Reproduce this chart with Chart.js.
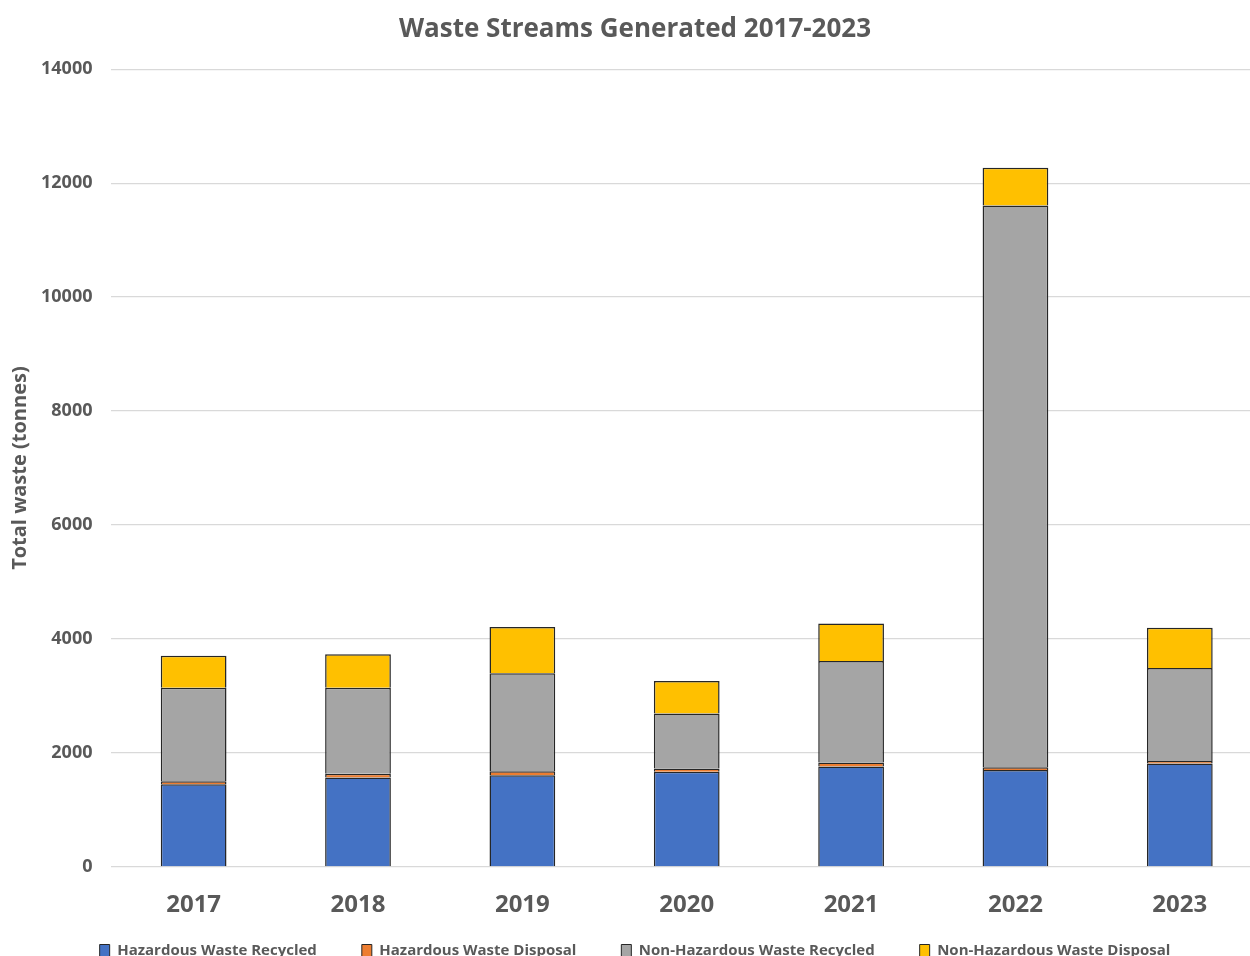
<!DOCTYPE html>
<html>
<head>
<meta charset="utf-8">
<script src="https://cdn.jsdelivr.net/npm/chart.js@4/dist/chart.umd.min.js"></script>
<style>
  html, body { margin: 0; padding: 0; background: #fff; overflow: hidden; }
  #wrap { width: 1262px; height: 968px; }
</style>
</head>
<body>
<div id="wrap"><canvas id="myChart" width="1262" height="968"></canvas></div>
<script>
// years on the x axis
let years = ["2017", "2018", "2019", "2020", "2021", "2022", "2023"]

// tonnes per stream, one value per year
let hazRecycled    = [1450, 1570, 1610, 1670, 1765, 1700, 1815]
let hazDisposal    = [55, 65, 70, 60, 70, 50, 45]
let nonHazRecycled = [1640, 1510, 1720, 965, 1780, 9860, 1630]
let nonHazDisposal = [560, 590, 810, 570, 660, 660, 710]

let yMax = 14000
let yStep = 2000

let greyText = "#595959"
let ctx = document.getElementById('myChart').getContext('2d')

function stream(label, values, color) {
  return {
    label: label,
    data: values,
    backgroundColor: color,
    borderColor: "#262626",
    borderWidth: 1.5,
    barPercentage: 0.8,
    categoryPercentage: 0.5
  }
}

let myChart = new Chart(ctx, {
  type: "bar",
  data: {
    labels: years,
    datasets: [
      stream("Hazardous Waste Recycled", hazRecycled, "#4472C4"),
      stream("Hazardous Waste Disposal", hazDisposal, "#ED7D31"),
      stream("Non-Hazardous Waste Recycled", nonHazRecycled, "#A5A5A5"),
      stream("Non-Hazardous Waste Disposal", nonHazDisposal, "#FFC000")
    ]
  },
  options: {
    responsive: false,
    animation: false,
    layout: { padding: { left: 8, right: 0, top: 0, bottom: 0 } },
    plugins: {
      title: {
        display: true,
        text: "Waste Streams Generated 2017-2023",
        color: greyText,
        font: { family: "Open Sans", size: 26, weight: "bold" },
        padding: { top: 14, bottom: 24 }
      },
      legend: {
        position: "bottom",
        labels: {
          color: greyText,
          font: { family: "Open Sans", size: 15, weight: "bold" },
          boxWidth: 10,
          boxHeight: 12,
          padding: 0,
          // wider gap between entries than above/below them
          generateLabels: function(chart) {
            let items = Chart.defaults.plugins.legend.labels.generateLabels(chart)
            items.forEach((it, i) => {
              it.lineWidth = 1
              it.strokeStyle = "#262626"
              if (i < items.length - 1) it.text += "\u2003\u2003\u2003"
            })
            return items
          }
        }
      },
      tooltip: { enabled: false }
    },
    scales: {
      x: {
        stacked: true,
        grid: { display: false, drawTicks: false },
        border: { display: false },
        ticks: {
          color: greyText,
          padding: 32,
          font: { family: "Open Sans", size: 24, weight: "bold", lineHeight: 0.5 }
        }
      },
      y: {
        stacked: true,
        min: 0,
        max: yMax,
        grid: { color: "#d9d9d9", lineWidth: 1.3, drawTicks: false },
        border: { display: false },
        ticks: {
          stepSize: yStep,
          color: greyText,
          padding: 19,
          font: { family: "Open Sans", size: 18, weight: "bold" },
          callback: v => String(v)
        },
        title: {
          display: true,
          text: "Total waste (tonnes)",
          color: greyText,
          font: { family: "Open Sans", size: 20, weight: "bold" },
          padding: { top: 0, bottom: -10 }
        }
      }
    }
  }
})
</script>
</body>
</html>
